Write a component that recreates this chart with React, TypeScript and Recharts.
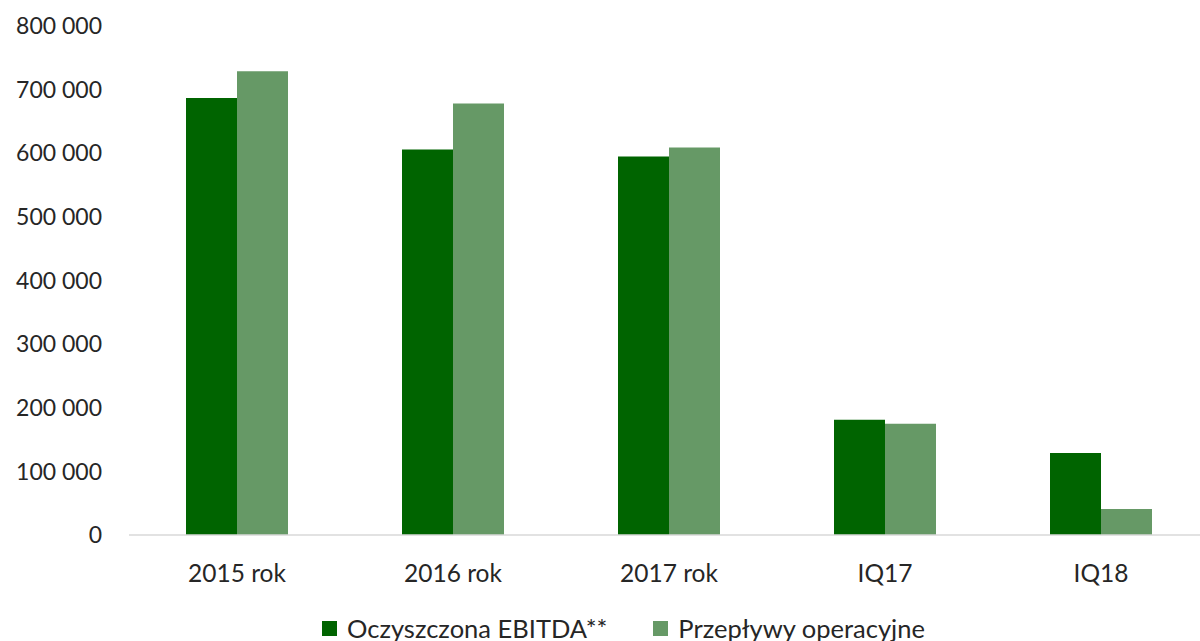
import React from 'react';
import { BarChart, Bar, XAxis, YAxis, Legend } from 'recharts';

const categories = ['2015 rok', '2016 rok', '2017 rok', 'IQ17', 'IQ18'];
const ebitda = [687000, 606000, 595000, 181000, 129000];
const przeplywy = [729000, 678000, 609000, 175000, 41000];
const yTicks = [0, 100000, 200000, 300000, 400000, 500000, 600000, 700000, 800000];

const SERIES = [
  { key: 'ebitda', name: 'Oczyszczona EBITDA**', color: '#006400' },
  { key: 'przeplywy', name: 'Przepływy operacyjne', color: '#669966' },
];

const FONT = 'Lato, "Open Sans", sans-serif';

const data = categories.map((c, i) => ({ name: c, ebitda: ebitda[i], przeplywy: przeplywy[i] }));

const fmt = (v: number) => String(v).replace(/\B(?=(\d{3})+(?!\d))/g, ' ');

function LegendContent() {
  return (
    <div style={{ display: 'flex', gap: 46, fontFamily: FONT, fontSize: 25.5, lineHeight: '28px', color: '#262626', whiteSpace: 'nowrap' }}>
      {SERIES.map((s) => (
        <div key={s.key} style={{ display: 'flex', alignItems: 'center', gap: 10 }}>
          <span style={{ width: 15, height: 15, background: s.color, display: 'inline-block' }} />
          <span>{s.name}</span>
        </div>
      ))}
    </div>
  );
}

export default function App() {
  return (
    <div style={{ position: 'absolute', left: 0, top: 0, width: 1200, height: 641, overflow: 'hidden', background: '#fff' }}>
      <BarChart
        width={1215}
        height={660}
        data={data}
        margin={{ top: 26, right: 6, left: 0, bottom: 67 }}
        barCategoryGap={57}
        barGap={0}
      >
        <XAxis
          dataKey="name"
          height={30}
          axisLine={{ stroke: '#d9d9d9', strokeWidth: 1.5 }}
          tickLine={false}
          tickSize={0}
          tickMargin={30}
          tick={{ fill: '#262626', fontSize: 24.5, fontFamily: FONT }}
          interval={0}
        />
        <YAxis
          width={129}
          domain={[0, 800000]}
          ticks={yTicks}
          axisLine={false}
          tickLine={false}
          tickSize={0}
          tickMargin={27}
          tickFormatter={fmt}
          tick={{ fill: '#262626', fontSize: 23, fontFamily: FONT }}
        />
        <Legend content={<LegendContent />} wrapperStyle={{ left: 322, top: 614, width: 'auto' }} />
        {SERIES.map((s) => (
          <Bar key={s.key} dataKey={s.key} name={s.name} fill={s.color} isAnimationActive={false} />
        ))}
      </BarChart>
    </div>
  );
}
